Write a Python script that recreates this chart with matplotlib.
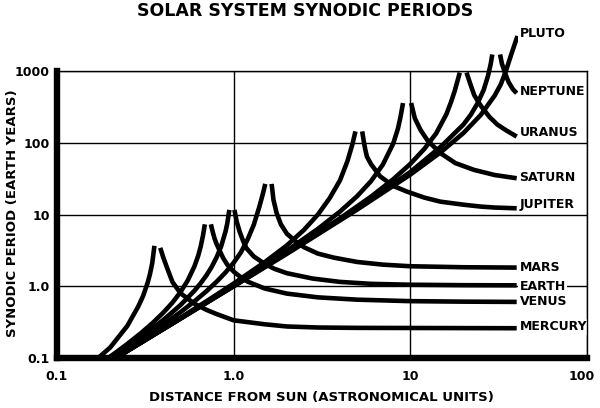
import matplotlib
matplotlib.use("Agg")
import matplotlib.pyplot as plt
import matplotlib.transforms as mtransforms

# distances in AU, synodic periods in earth years
mercury_rise_au = [0.171, 0.20, 0.25, 0.288, 0.307, 0.326, 0.336, 0.346, 0.356]
mercury_rise_yr = [0.10, 0.14, 0.28, 0.52, 0.73, 1.12, 1.48, 2.10, 3.66]
mercury_fall_au = [0.384, 0.40, 0.42, 0.45, 0.50, 0.60, 0.70, 0.80, 1.0, 1.5, 2.0, 3.0, 5.0, 10, 20, 40]
mercury_fall_yr = [3.43, 2.50, 1.80, 1.15, 0.80, 0.57, 0.47, 0.41, 0.335, 0.295, 0.275, 0.266, 0.263, 0.262, 0.261, 0.26]

venus_rise_au = [0.195, 0.22, 0.25, 0.30, 0.35, 0.40, 0.45, 0.50, 0.55, 0.60, 0.63, 0.65, 0.67, 0.687]
venus_rise_yr = [0.10, 0.124, 0.157, 0.224, 0.312, 0.43, 0.59, 0.83, 1.21, 1.90, 2.67, 3.54, 5.05, 7.3]
venus_fall_au = [0.743, 0.76, 0.78, 0.80, 0.83, 0.87, 0.92, 1.0, 1.1, 1.2, 1.5, 2.0, 3.0, 5.0, 10, 20, 40]
venus_fall_yr = [7.3, 5.8, 4.6, 3.9, 3.2, 2.5, 2.0, 1.6, 1.33, 1.16, 0.93, 0.79, 0.70, 0.65, 0.62, 0.61, 0.605]

earth_rise_au = [0.198, 0.25, 0.30, 0.40, 0.50, 0.60, 0.65, 0.70, 0.75, 0.80, 0.85, 0.90, 0.92, 0.945]
earth_rise_yr = [0.10, 0.143, 0.197, 0.339, 0.547, 0.868, 1.10, 1.41, 1.85, 2.52, 3.62, 5.84, 7.5, 11.6]
earth_fall_au = [1.01, 1.04, 1.08, 1.13, 1.18, 1.3, 1.5, 1.7, 2.0, 2.8, 4.0, 6.0, 10, 20, 40]
earth_fall_yr = [11.6, 8.0, 5.8, 4.3, 3.4, 2.6, 2.05, 1.75, 1.52, 1.28, 1.15, 1.08, 1.05, 1.035, 1.03]

mars_rise_au = [0.208, 0.25, 0.30, 0.40, 0.50, 0.60, 0.70, 0.80, 0.90, 1.0, 1.1, 1.2, 1.3, 1.4, 1.46, 1.51]
mars_rise_yr = [0.10, 0.134, 0.18, 0.292, 0.435, 0.617, 0.85, 1.155, 1.56, 2.13, 2.98, 4.5, 7.2, 13, 19, 26.7]
mars_fall_au = [1.64, 1.68, 1.75, 1.85, 2.0, 2.25, 2.5, 3.0, 3.7, 5.0, 7.0, 10, 20, 40]
mars_fall_yr = [26.7, 16, 10.5, 7.3, 5.4, 4.2, 3.5, 2.85, 2.5, 2.18, 2.0, 1.90, 1.84, 1.82]

jupiter_rise_au = [0.215, 0.25, 0.30, 0.40, 0.50, 0.70, 1.0, 1.5, 2.0, 2.5, 3.0, 3.5, 4.0, 4.4, 4.7, 4.89]
jupiter_rise_yr = [0.10, 0.126, 0.167, 0.259, 0.364, 0.616, 1.09, 2.17, 3.71, 6.1, 10.0, 17, 30, 55, 95, 144]
jupiter_fall_au = [5.34, 5.45, 5.55, 5.68, 6.0, 6.75, 8.0, 9.6, 12, 14.8, 20, 25, 30, 40]
jupiter_fall_yr = [144, 105, 82, 64, 50, 34, 25, 20.8, 17.2, 15.1, 13.7, 12.9, 12.5, 12.2]

saturn_rise_au = [0.215, 0.30, 0.50, 1.0, 2.0, 3.0, 4.0, 5.0, 6.0, 7.0, 8.0, 8.5, 8.8, 9.09]
saturn_rise_yr = [0.10, 0.165, 0.357, 1.035, 3.13, 6.31, 11.0, 18.0, 29.3, 49.9, 97.5, 156, 229, 358]
saturn_fall_au = [10.1, 10.6, 11.4, 12.5, 14.8, 18, 22.9, 30, 40]
saturn_fall_yr = [358, 220, 152, 108, 71.6, 52, 41.9, 35.5, 32]

uranus_rise_au = [0.215, 0.30, 0.50, 1.0, 2.0, 4.0, 6.0, 8.0, 10, 12, 14, 16, 17, 17.8, 18.5, 19.05]
uranus_rise_yr = [0.10, 0.165, 0.355, 1.01, 2.93, 8.84, 17.8, 31, 50.7, 82, 135, 250, 370, 520, 730, 950]
uranus_fall_au = [20.8, 21.9, 23, 25, 28, 31.1, 35, 40]
uranus_fall_yr = [950, 650, 460, 330, 230, 179, 148, 122]

neptune_rise_au = [0.215, 0.30, 0.50, 1.0, 2.0, 5.0, 10, 15, 20, 22, 24, 26, 27.5, 28.5, 29.1]
neptune_rise_yr = [0.10, 0.165, 0.354, 1.006, 2.88, 12.0, 39.1, 89.7, 180, 246, 354, 544, 850, 1250, 1700]
neptune_fall_au = [32.2, 33, 34.7, 36, 38, 40]
neptune_fall_yr = [1700, 1260, 880, 700, 560, 490]

pluto_au = [0.215, 0.30, 0.50, 1.0, 2.0, 5.0, 10, 15, 20, 25, 30, 32.5, 34.7, 37.4, 40.4]
pluto_yr = [0.10, 0.165, 0.354, 1.0, 2.83, 11.7, 36, 75, 137, 243, 453, 650, 990, 1750, 3070]

planet_names = ["PLUTO", "NEPTUNE", "URANUS", "SATURN", "JUPITER", "MARS", "EARTH", "VENUS", "MERCURY"]
label_y = [3385, 510, 137, 32.3, 14.0, 1.81, 1.008, 0.609, 0.273]

x_ticks = [0.1, 1, 10, 100]
x_ticklabels = ["0.1", "1.0", "10", "100"]
y_ticks = [0.1, 1, 10, 100, 1000]
y_ticklabels = ["0.1", "1.0", "10", "100", "1000"]

curves = [
    (mercury_rise_au, mercury_rise_yr), (mercury_fall_au, mercury_fall_yr),
    (venus_rise_au, venus_rise_yr), (venus_fall_au, venus_fall_yr),
    (earth_rise_au, earth_rise_yr), (earth_fall_au, earth_fall_yr),
    (mars_rise_au, mars_rise_yr), (mars_fall_au, mars_fall_yr),
    (jupiter_rise_au, jupiter_rise_yr), (jupiter_fall_au, jupiter_fall_yr),
    (saturn_rise_au, saturn_rise_yr), (saturn_fall_au, saturn_fall_yr),
    (uranus_rise_au, uranus_rise_yr), (uranus_fall_au, uranus_fall_yr),
    (neptune_rise_au, neptune_rise_yr), (neptune_fall_au, neptune_fall_yr),
    (pluto_au, pluto_yr),
]

fig = plt.figure(figsize=(6, 4.08), dpi=100, facecolor="white")
ax = fig.add_axes([57 / 600, 1 - 358 / 408, 530 / 600, 287 / 408])
ax.set_xscale("log")
ax.set_yscale("log")
ax.set_xlim(0.1, 100)
ax.set_ylim(0.1, 1000)

for au, yr in curves:
    ax.plot(au, yr, color="black", lw=3.3, clip_on=False,
            solid_joinstyle="round", solid_capstyle="butt", zorder=3)

ax.set_xticks(x_ticks)
ax.set_xticklabels(x_ticklabels)
ax.set_yticks(y_ticks)
ax.set_yticklabels(y_ticklabels)
ax.minorticks_off()
ax.tick_params(axis="x", length=0, pad=9, labelsize=9)
ax.tick_params(axis="y", length=0, pad=5, labelsize=9)
for lab in ax.get_xticklabels() + ax.get_yticklabels():
    lab.set_fontweight("bold")
# last x label sits at the right edge, pull it in a little
shift = mtransforms.ScaledTranslation(-4 / 72, 0, fig.dpi_scale_trans)
last = ax.get_xticklabels()[-1]
last.set_transform(last.get_transform() + shift)

ax.grid(True, color="black", lw=1.0)
ax.set_axisbelow(True)
for side in ["top", "right"]:
    ax.spines[side].set_linewidth(1.0)
    ax.spines[side].set_zorder(6)
for side in ["left", "bottom"]:
    ax.spines[side].set_linewidth(4.6)
    ax.spines[side].set_zorder(6)

for name, y in zip(planet_names, label_y):
    ax.text(41.5, y, name, ha="left", va="center", fontsize=9, fontweight="bold",
            bbox=dict(facecolor="white", edgecolor="none", pad=1.0), zorder=5, clip_on=False)

fig.text(305 / 600, 1 - 11 / 408, "SOLAR SYSTEM SYNODIC PERIODS", ha="center", va="center",
         fontsize=12.5, fontweight="bold")
fig.text(321 / 600, 1 - 398 / 408, "DISTANCE FROM SUN (ASTRONOMICAL UNITS)", ha="center",
         va="center", fontsize=9.5, fontweight="bold")
fig.text(12.5 / 600, 1 - 213.5 / 408, "SYNODIC PERIOD (EARTH YEARS)", ha="center", va="center",
         rotation=90, fontsize=9.5, fontweight="bold")

fig.savefig("out.png", dpi=100, facecolor="white")
